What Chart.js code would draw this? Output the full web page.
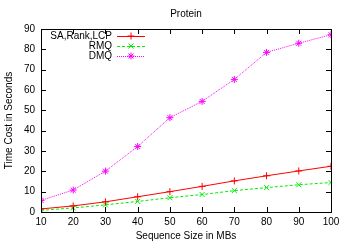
<!DOCTYPE html>
<html>
<head>
<meta charset="UTF-8">
<script src="https://cdn.jsdelivr.net/npm/chart.js"></script>
<style>
  html, body { margin: 0; padding: 0; background: #fff; }
  #wrap { width: 348px; height: 243px; }
</style>
</head>
<body>
<div id="wrap"><canvas id="c" width="348" height="243"></canvas></div>
<script>
const sizes = [10, 20, 30, 40, 50, 60, 70, 80, 90, 100];
const saRankLcp = [1.5, 3.0, 5.0, 7.5, 10.0, 12.6, 15.3, 17.8, 20.2, 22.5];
const rmq = [0.8, 2.0, 3.5, 5.2, 7.0, 8.6, 10.5, 12.0, 13.4, 14.5];
const dmq = [5.7, 10.8, 20.1, 32.2, 46.4, 54.4, 65.2, 78.5, 83.0, 87.2];
const xTicks = [10, 20, 30, 40, 50, 60, 70, 80, 90, 100];
const yTicks = [0, 10, 20, 30, 40, 50, 60, 70, 80, 90];

const FONT = "'Liberation Sans', Arial, sans-serif";

const toPts = vals => vals.map((v, i) => ({ x: sizes[i], y: v }));

// gnuplot style frame, inward ticks, title and inside legend
const gnuFrame = {
  id: 'gnuFrame',
  afterDraw(chart) {
    const { ctx, chartArea: a, scales } = chart;
    ctx.save();
    ctx.strokeStyle = '#000';
    ctx.lineWidth = 1;
    ctx.strokeRect(a.left + 0.5, a.top + 0.5, a.right - a.left, a.bottom - a.top);
    ctx.beginPath();
    xTicks.forEach(t => {
      const x = Math.round(scales.x.getPixelForValue(t)) + 0.5;
      ctx.moveTo(x, a.bottom); ctx.lineTo(x, a.bottom - 5);
      ctx.moveTo(x, a.top); ctx.lineTo(x, a.top + 5);
    });
    yTicks.forEach(t => {
      const y = Math.round(scales.y.getPixelForValue(t)) + 0.5;
      ctx.moveTo(a.left, y); ctx.lineTo(a.left + 5, y);
      ctx.moveTo(a.right, y); ctx.lineTo(a.right - 5, y);
    });
    ctx.stroke();

    ctx.fillStyle = '#000';
    ctx.font = '10px ' + FONT;
    ctx.textAlign = 'center';
    ctx.textBaseline = 'middle';
    ctx.fillText('Protein', (a.left + a.right) / 2, 14);

    // legend
    chart.data.datasets.forEach((ds, i) => {
      const y = 36 + i * 10;
      ctx.fillStyle = '#000';
      ctx.textAlign = 'right';
      ctx.fillText(ds.label, 112, y);
      ctx.strokeStyle = ds.borderColor;
      ctx.lineWidth = 1;
      ctx.setLineDash(ds.borderDash || []);
      ctx.beginPath();
      ctx.moveTo(117, y + 0.5); ctx.lineTo(145, y + 0.5);
      ctx.stroke();
      ctx.setLineDash([]);
      Chart.helpers.drawPoint(ctx, {
        pointStyle: ds.pointStyle, radius: ds.pointRadius, rotation: 0,
        borderWidth: 1.2
      }, 131, y);
    });
    ctx.restore();
  }
};

new Chart(document.getElementById('c'), {
  type: 'line',
  data: {
    datasets: [
      { label: 'SA,Rank,LCP', data: toPts(saRankLcp), borderColor: '#ff0000', pointBorderColor: '#ff0000',
        pointStyle: 'cross', pointRadius: 3.5, borderWidth: 1 },
      { label: 'RMQ', data: toPts(rmq), borderColor: '#00ee00', pointBorderColor: '#00ee00',
        borderDash: [3, 2], pointStyle: 'crossRot', pointRadius: 3.5, borderWidth: 1 },
      { label: 'DMQ', data: toPts(dmq), borderColor: '#ff00ff', pointBorderColor: '#ff00ff',
        borderDash: [1, 1], pointStyle: 'star', pointRadius: 3.5, borderWidth: 1 }
    ]
  },
  options: {
    responsive: false,
    animation: false,
    layout: { padding: { left: 0, right: 17, top: 29, bottom: 0 } },
    plugins: { legend: { display: false }, title: { display: false }, tooltip: { enabled: false } },
    elements: { line: { tension: 0 }, point: { borderWidth: 1.3 } },
    scales: {
      x: {
        type: 'linear', min: 10, max: 100,
        afterBuildTicks: s => { s.ticks = xTicks.map(v => ({ value: v })); },
        afterFit: s => { s.height = 31; },
        grid: { display: false, drawTicks: false },
        border: { display: false },
        ticks: { color: '#000', font: { family: FONT, size: 10 }, padding: 4, maxRotation: 0 },
        title: { display: true, text: 'Sequence Size in MBs', color: '#000',
                 font: { family: FONT, size: 10 }, padding: { top: 2, bottom: 1 } }
      },
      y: {
        min: 0, max: 90,
        afterBuildTicks: s => { s.ticks = yTicks.map(v => ({ value: v })); },
        afterFit: s => { s.width = 41; },
        grid: { display: false, drawTicks: false },
        border: { display: false },
        ticks: { color: '#000', font: { family: FONT, size: 10 }, padding: 6 },
        title: { display: true, text: 'Time Cost in Seconds', color: '#000',
                 font: { family: FONT, size: 10 }, padding: { top: 3, bottom: 2 } }
      }
    }
  },
  plugins: [gnuFrame]
});
</script>
</body>
</html>
